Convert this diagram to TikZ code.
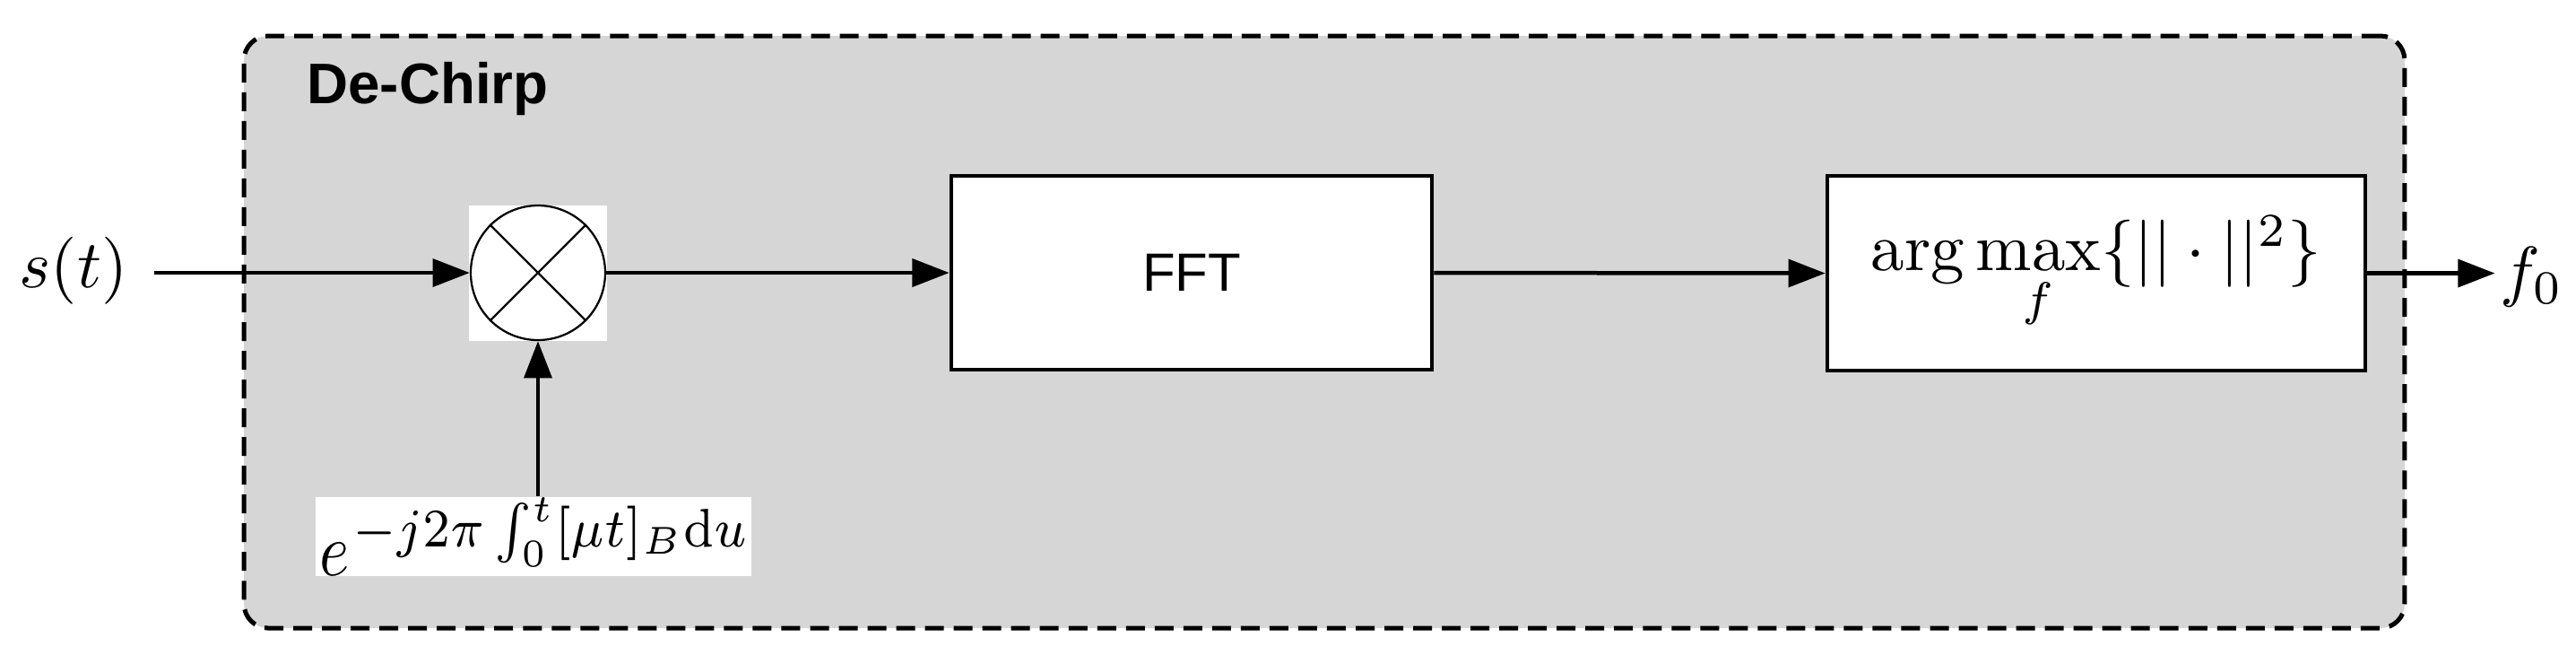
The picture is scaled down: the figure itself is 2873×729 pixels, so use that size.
\documentclass[tikz,border=0pt]{standalone}
\usepackage{fontspec}
\usepackage{amsmath}
\usepackage{graphicx}
\newfontfamily\helv{Liberation Sans}
\usetikzlibrary{arrows.meta}
\definecolor{panelgray}{RGB}{214,214,214}
\begin{document}
\begin{tikzpicture}[x=0.13333pt,y=-0.13333pt,
  arr/.style={line width=0.6pt,-{Triangle[length=5.5pt,width=4.1pt]}},
  blockbox/.style={draw,line width=0.6pt,fill=white,inner sep=0pt},
  container/.style={draw,line width=0.67pt,dash pattern=on 2.8pt off 1.47pt,fill=panelgray,rounded corners=3.6pt,inner sep=0pt},
  mixer/.style={circle,draw,line width=0.3pt,minimum size=20pt,inner sep=0pt},
  plain/.style={inner sep=0pt}]
\useasboundingbox (0,0) rectangle (2873,729);
\node[container,minimum width=321.3pt,minimum height=88pt] (dechirp) at (1477,370) {};
\node[plain,anchor=base west,font=\helv\bfseries\fontsize{8.5}{10}\selectfont] (title) at (341,115) {De-Chirp};
\node[plain,fill=white,minimum width=20.53pt,minimum height=20.13pt] (mixbg) at (600,304.5) {};
\node[mixer] (mix) at (600,304) {};
\draw[line width=0.3pt] (mix.45) -- (mix.225) (mix.135) -- (mix.-45);
\node[blockbox,minimum width=71.47pt,minimum height=28.8pt,font=\helv\fontsize{8}{10}\selectfont] (fft) at (1329,304) {FFT};
\node[blockbox,minimum width=80pt,minimum height=28.93pt] (argm) at (2338,304.5) {$\arg\max\limits_f\{||\cdot||^2\}$};
\node[plain,anchor=base] (s) at (82,320) {$s(t)$};
\node[plain,anchor=base west] (f0) at (2787,327) {$f_0$};
\node[plain,fill=white,minimum width=64.8pt,minimum height=11.73pt] (lbl) at (595,598) {\scalebox{0.95}[1.12]{$e$}\kern0.5pt\raisebox{4.27pt}{\resizebox{58.7pt}{7.2pt}{$\scriptstyle -j2\pi\int_0^t[\mu t]_B\mathrm{d}u$}}};
\draw[arr,shorten <=3.7pt] (s.east |- mix.west) -- (mix.west);
\draw[arr] (mix.east) -- (fft.west);
\draw[arr] (fft.east) -- (argm.west);
\draw[arr,shorten >=0.6pt] (argm.east) -- (f0.west |- argm.east);
\draw[arr] (lbl.north -| mix.south) -- (mix.south);
\end{tikzpicture}
\end{document}
